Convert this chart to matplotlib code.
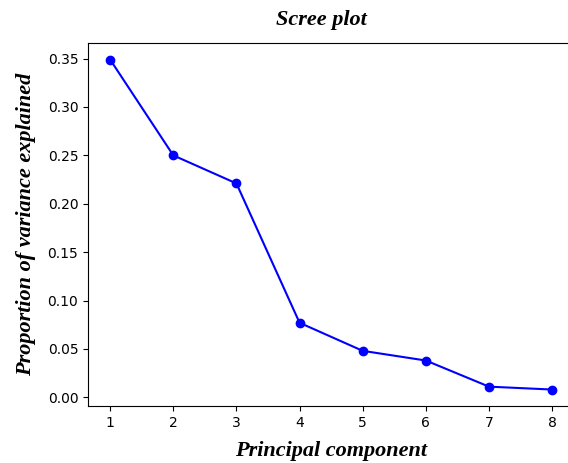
import matplotlib
matplotlib.use("Agg")
import matplotlib.pyplot as plt

components = [1, 2, 3, 4, 5, 6, 7, 8]
variance_ratio = [0.349, 0.250, 0.221, 0.077, 0.048, 0.038, 0.011, 0.008]

fig, ax = plt.subplots(figsize=(5.68, 4.63), dpi=100)
ax.plot(components, variance_ratio, marker="o", color="blue", linestyle="-")

font = {"family": "Liberation Serif", "style": "italic", "weight": "bold", "size": 16}
ax.set_title("Scree plot", fontdict=font, pad=13, x=0.48)
ax.set_xlabel("Principal component", fontdict=font, labelpad=8)
ax.set_ylabel("Proportion of variance explained", fontdict=font, labelpad=8)

# the right edge of the original axes is cut off by the image border
fig.subplots_adjust(left=0.155, right=1.011, top=0.907, bottom=0.123)
fig.savefig("out.png", dpi=100)
